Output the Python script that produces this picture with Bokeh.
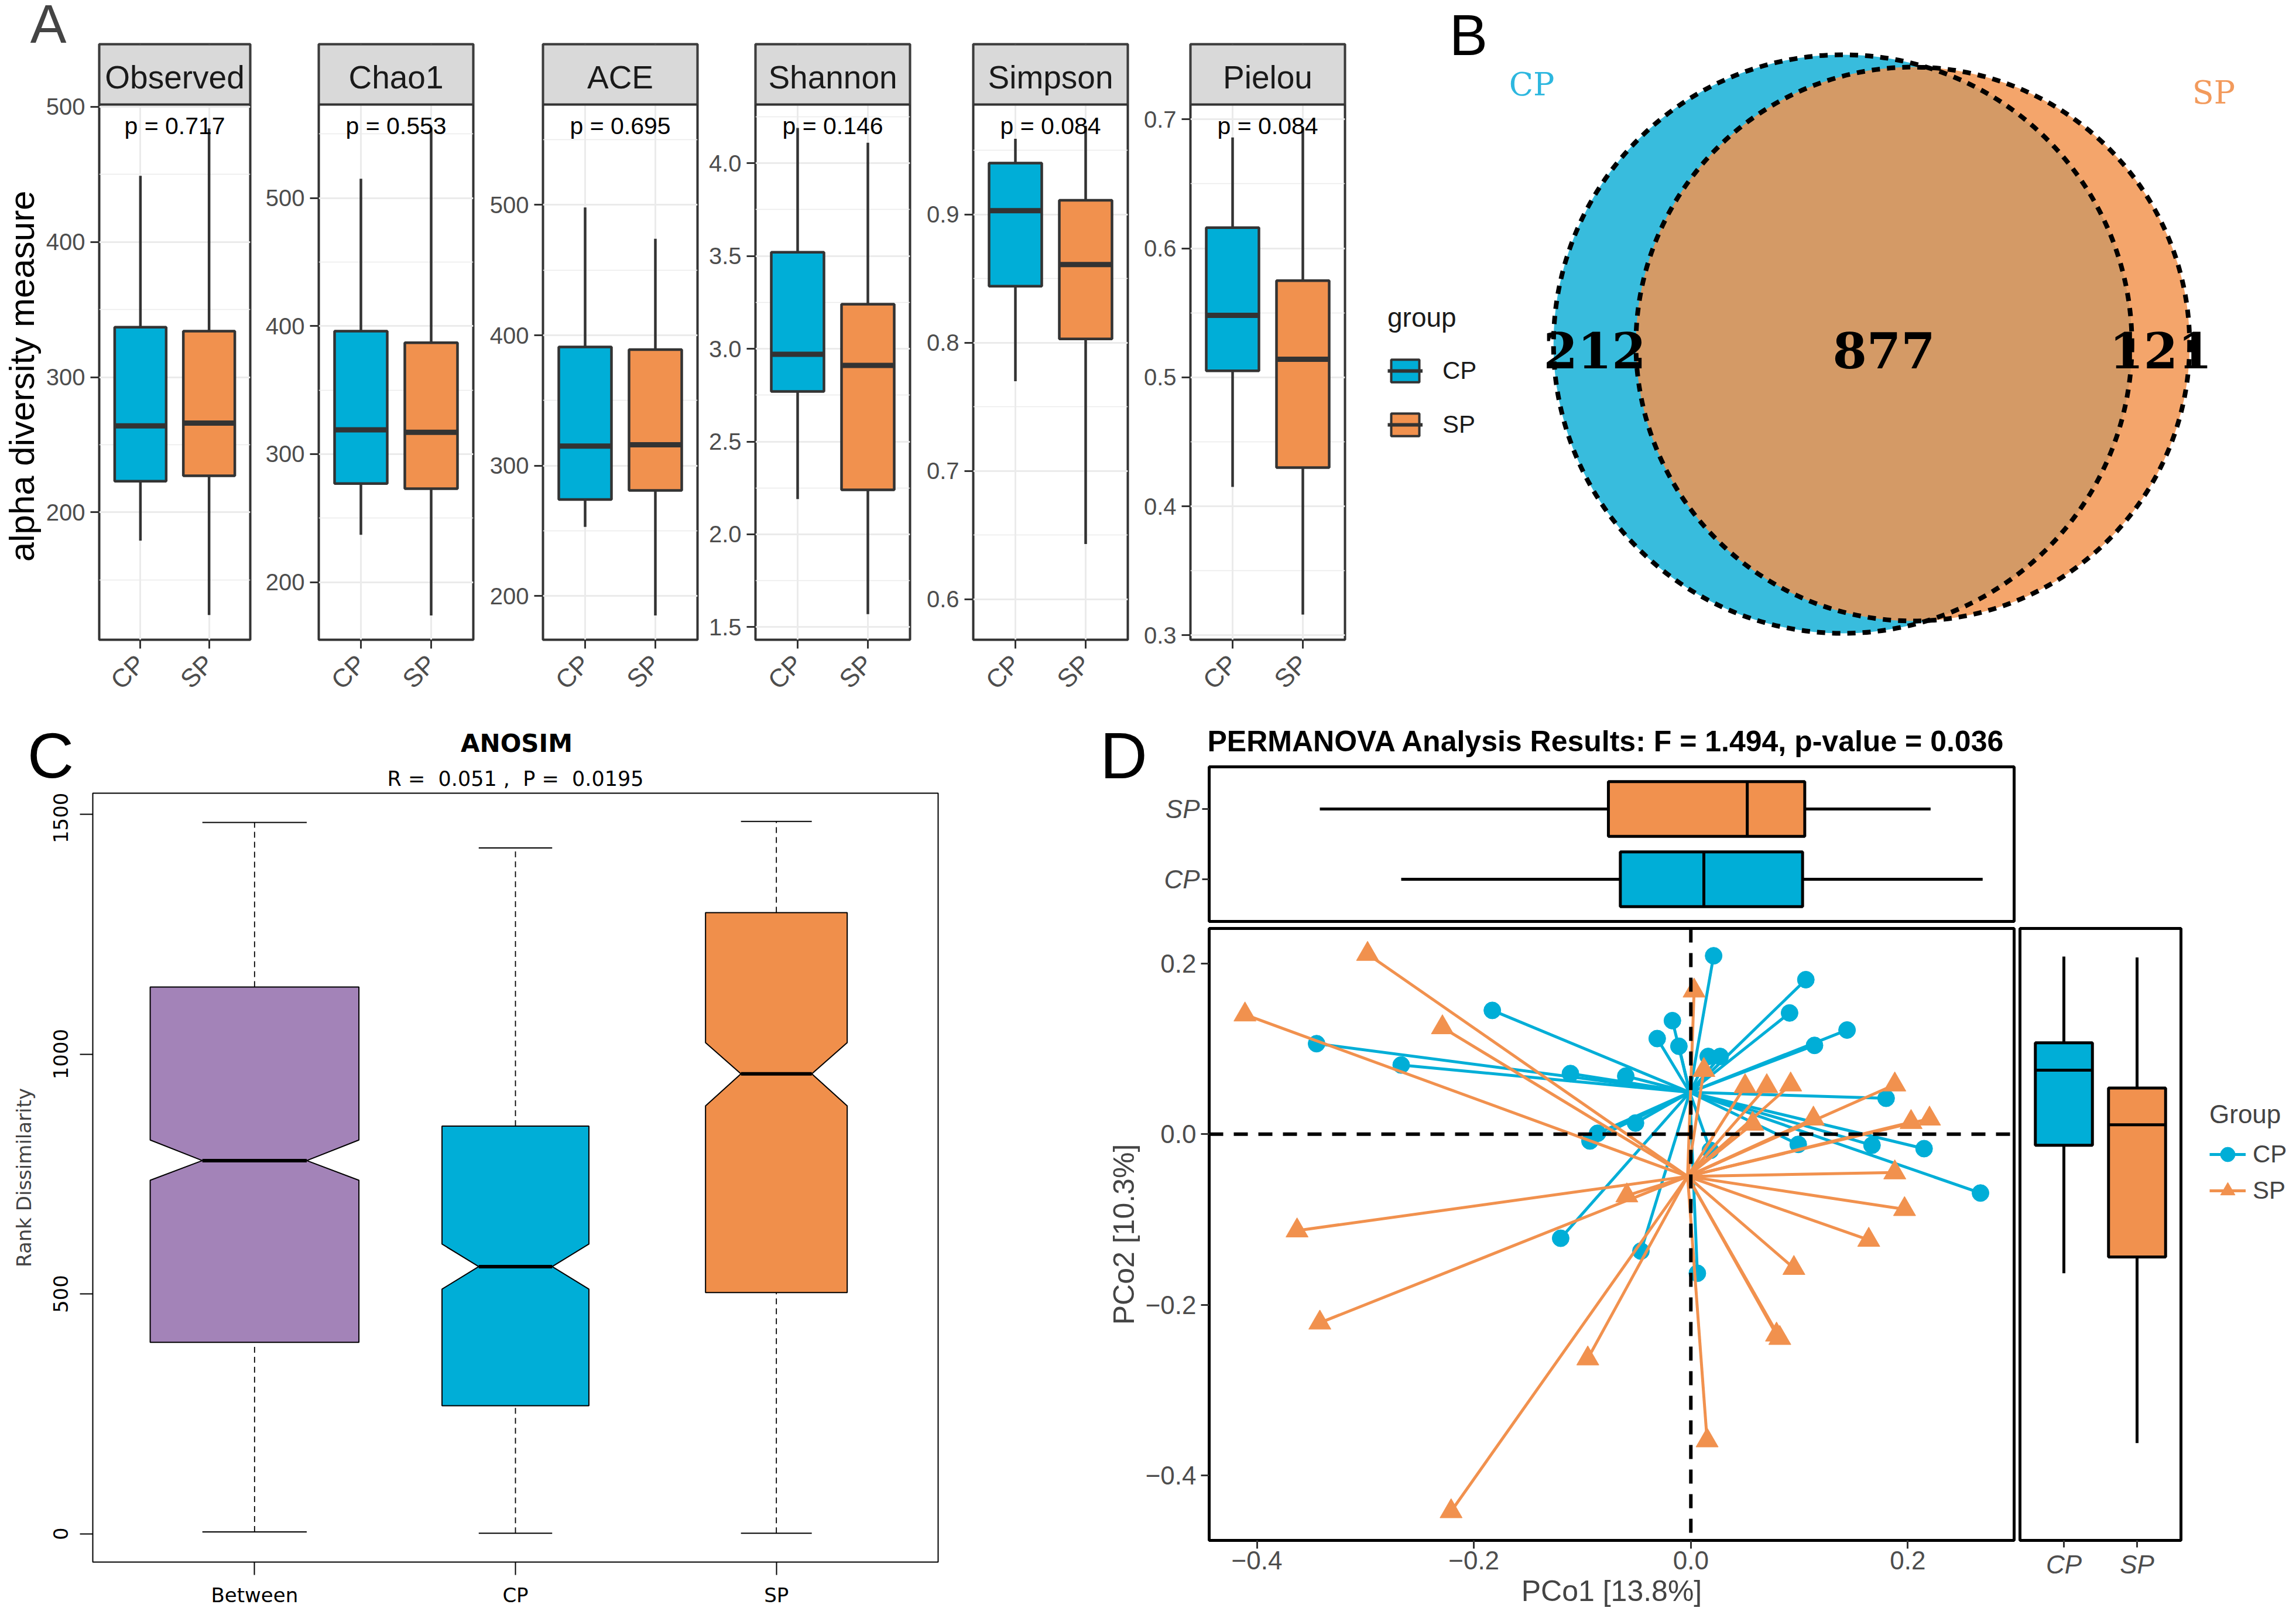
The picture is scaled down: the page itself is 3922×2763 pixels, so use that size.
import math
import numpy as np
from bokeh.plotting import figure
from bokeh.layouts import row, column
from bokeh.models import (Range1d, FixedTicker, Label, Legend, LegendItem, Span, BoxAnnotation,
                          PrintfTickFormatter, CustomJSTickFormatter, ColumnDataSource)
from bokeh.transform import dodge
from bokeh.embed import file_html
from bokeh.resources import INLINE

# ======================= DATA =======================
groups = ["CP", "SP"]
metrics = ["Observed", "Chao1", "ACE", "Shannon", "Simpson", "Pielou"]
p_values = ["0.717", "0.553", "0.695", "0.146", "0.084", "0.084"]

# five-number summaries: lower whisker, Q1, median, Q3, upper whisker
observed_cp = [179, 223, 264, 337, 449]
observed_sp = [124, 227, 266, 334, 484]
chao1_cp = [237, 277, 319, 396, 515]
chao1_sp = [174, 273, 317, 387, 555]
ace_cp = [253, 274, 315, 391, 498]
ace_sp = [185, 281, 316, 389, 474]
shannon_cp = [2.19, 2.77, 2.97, 3.52, 4.19]
shannon_sp = [1.57, 2.24, 2.91, 3.24, 4.11]
simpson_cp = [0.770, 0.844, 0.903, 0.940, 0.959]
simpson_sp = [0.643, 0.803, 0.861, 0.911, 0.969]
pielou_cp = [0.415, 0.505, 0.548, 0.616, 0.686]
pielou_sp = [0.316, 0.430, 0.514, 0.575, 0.694]

# axis limits and ticks of the facets
facet_ylims = [(105.7, 501.7), (155, 573), (166.4, 577), (1.432, 4.316), (0.5684, 0.9857), (0.2965, 0.7115)]
facet_ticks = [[200, 300, 400, 500], [200, 300, 400, 500], [200, 300, 400, 500],
               [1.5, 2.0, 2.5, 3.0, 3.5, 4.0], [0.6, 0.7, 0.8, 0.9], [0.3, 0.4, 0.5, 0.6, 0.7]]
facet_minor = [[150, 250, 350, 450], [250, 350, 450, 550], [250, 350, 450, 550],
               [1.75, 2.25, 2.75, 3.25, 3.75, 4.25], [0.65, 0.75, 0.85, 0.95], [0.35, 0.45, 0.55, 0.65]]
facet_fmt = ["%d", "%d", "%d", "%.1f", "%.1f", "%.1f"]

# Venn counts
venn_cp_only = 212
venn_shared = 877
venn_sp_only = 121

# ANOSIM
anosim_groups = ["Between", "CP", "SP"]
anosim_low = [4, 1, 1]
anosim_q1 = [399, 267, 503]
anosim_median = [778, 557, 959]
anosim_q3 = [1140, 850, 1295]
anosim_high = [1483, 1430, 1485]
anosim_notch_lo = [737, 510, 892]
anosim_notch_hi = [821, 604, 1024]
anosim_width = [0.80, 0.563, 0.543]
anosim_R = "0.051"
anosim_P = "0.0195"

# PCoA
cp_pc1 = [0.021, 0.106, -0.183, 0.091, -0.017, 0.144, -0.031, -0.011, -0.345, 0.114, 0.016, 0.027,
          -0.267, -0.111, -0.060, 0.180, -0.051, -0.086, -0.093, 0.099, 0.167, 0.215, 0.018,
          0.267, -0.120, -0.046, 0.006]
cp_pc2 = [0.209, 0.181, 0.145, 0.142, 0.133, 0.122, 0.112, 0.103, 0.106, 0.104, 0.091, 0.091,
          0.081, 0.071, 0.068, 0.042, 0.013, 0.001, -0.008, -0.012, -0.013, -0.017, -0.019,
          -0.069, -0.122, -0.137, -0.163]
sp_pc1 = [-0.298, -0.411, -0.229, 0.003, 0.050, 0.070, 0.092, 0.188, 0.113, 0.203, 0.220, 0.188,
          0.197, 0.164, 0.095, 0.079, 0.082, 0.015, -0.095, -0.221, -0.342, -0.363, -0.059,
          0.012, 0.057]
sp_pc2 = [0.211, 0.140, 0.125, 0.168, 0.056, 0.056, 0.058, 0.058, 0.018, 0.014, 0.018, -0.045,
          -0.088, -0.124, -0.157, -0.235, -0.239, -0.359, -0.263, -0.442, -0.221, -0.113, -0.072,
          0.075, 0.012]
cp_centroid = (-0.001, 0.049)
sp_centroid = (-0.003, -0.0495)
pc1_cp_box = [-0.267, -0.065, 0.012, 0.103, 0.269]
pc1_sp_box = [-0.342, -0.076, 0.052, 0.105, 0.221]
pc2_cp_box = [-0.163, -0.013, 0.075, 0.107, 0.208]
pc2_sp_box = [-0.362, -0.144, 0.011, 0.054, 0.207]
permanova_F = "1.494"
permanova_p = "0.036"
pc1_var = "13.8"
pc2_var = "10.3"

# ======================= STYLE =======================
CP_COL = "#00AED7"
SP_COL = "#F1914E"
group_colors = [CP_COL, SP_COL]
FONT_A = "Liberation Sans"
FONT_C = "DejaVu Sans"
FONT_V = "DejaVu Serif"
GREY30 = "#4D4D4D"
GREY20 = "#333333"
OFF = 8
NAN = np.array([np.nan])
NBSP = "\u00a0"


def mk(width, height, xr, yr, left, right, top, bottom, **kw):
    p = figure(width=width, height=height, x_range=xr, y_range=yr,
               min_border_left=left, min_border_right=right,
               min_border_top=top, min_border_bottom=bottom,
               toolbar_location=None, output_backend="svg", **kw)
    p.border_fill_color = "white"
    p.background_fill_color = "white"
    return p


def text_fig(x0, x1, y0, y1):
    """A canvas without axes whose data units are the page pixels."""
    p = mk(x1 - x0, y1 - y0, Range1d(x0, x1), Range1d(y1, y0), 0, 0, 0, 0,
           x_axis_location=None, y_axis_location=None)
    p.outline_line_color = None
    p.grid.grid_line_color = None
    return p


def px_label(p, X, Y, text, font, size, color="black", style="normal", align="center"):
    # Y is the wanted centre of the capitals; 'middle' sits a little above it
    p.add_layout(Label(x=X, y=Y + 0.1 * size, text=text, text_font=font, text_font_size=f"{size}px",
                       text_color=color, text_font_style=style, text_align=align,
                       text_baseline="middle"))


def style_axis(ax, font, size, color, tick_out, tick_w, tick_color, standoff, style="normal"):
    ax.major_label_text_font = font
    ax.major_label_text_font_size = f"{size}px"
    ax.major_label_text_color = color
    ax.major_label_text_font_style = style
    ax.major_tick_out = tick_out
    ax.major_tick_in = 0
    ax.major_tick_line_width = tick_w
    ax.major_tick_line_color = tick_color
    ax.minor_tick_line_color = None
    ax.axis_line_color = None
    ax.major_label_standoff = standoff


# ======================= PANEL A =======================
facet_stats = [(observed_cp, observed_sp), (chao1_cp, chao1_sp), (ace_cp, ace_sp),
               (shannon_cp, shannon_sp), (simpson_cp, simpson_sp), (pielou_cp, pielou_sp)]
frame_lefts = [171, 552, 935, 1298, 1670, 2041]
FW = 264
STRIP_TOP, STRIP_BOT, PANEL_BOT, ROW_BOT = 83, 186, 1100, 1225
A_HEAD_BOT = 81
PANEL_H = PANEL_BOT - STRIP_BOT
STRIP_H = STRIP_BOT - STRIP_TOP
xs = [k + 1 for k in range(len(groups))]

facet_cols = []
prev_right = OFF
for i, m in enumerate(metrics):
    L = frame_lefts[i]
    lb = L - prev_right
    W = lb + FW + 3
    x_start = prev_right
    prev_right += W
    y0, y1 = facet_ylims[i]
    span = y1 - y0
    y_top = y1 + STRIP_H / PANEL_H * span          # the strip sits above the panel
    parts = []
    if i == 0:
        head = text_fig(x_start, x_start + W, OFF, A_HEAD_BOT)
        head.add_layout(Label(x=90, y=49, text="A", text_font=FONT_A, text_font_size="94px",
                              text_align="center", text_baseline="middle"))
        parts.append(row(head))
        f = mk(W, ROW_BOT - A_HEAD_BOT, (0.4, 2.6), (y0, y_top), lb, 3, STRIP_TOP - A_HEAD_BOT,
               ROW_BOT - PANEL_BOT)
    else:
        f = mk(W, ROW_BOT - OFF, (0.4, 2.6), (y0, y_top), lb, 3, STRIP_TOP - OFF, ROW_BOT - PANEL_BOT)
    f.outline_line_color = GREY20
    f.outline_line_width = 4
    cp, sp = facet_stats[i]
    src = ColumnDataSource(dict(x=xs, low=[cp[0], sp[0]], q1=[cp[1], sp[1]], med=[cp[2], sp[2]],
                                q3=[cp[3], sp[3]], high=[cp[4], sp[4]], color=group_colors))
    f.segment(x0="x", y0="q3", x1="x", y1="high", source=src, line_color=GREY20, line_width=4.5)
    f.segment(x0="x", y0="low", x1="x", y1="q1", source=src, line_color=GREY20, line_width=4.5)
    f.vbar(x="x", bottom="q1", top="q3", width=0.75, source=src, fill_color="color",
           line_color=GREY20, line_width=4.5)
    f.segment(x0=dodge("x", -0.375), y0="med", x1=dodge("x", 0.375), y1="med", source=src,
              line_color=GREY20, line_width=9)
    # strip
    f.add_layout(BoxAnnotation(bottom=y1, top=y_top, fill_color="#D9D9D9", fill_alpha=1.0,
                               line_color=GREY20, line_width=4, line_alpha=1.0))
    f.add_layout(Label(x=1.5, y=(y1 + y_top) / 2 - 5 / PANEL_H * span, text=m, text_font=FONT_A,
                       text_font_size="55px", text_color="#1A1A1A", text_align="center",
                       text_baseline="middle"))
    f.add_layout(Label(x=1.5, y=y1 - 36 / PANEL_H * span, text=f"p = {p_values[i]}", text_font=FONT_A,
                       text_font_size="41px", text_color="black", text_align="center",
                       text_baseline="middle"))
    f.xaxis.ticker = FixedTicker(ticks=xs)
    f.xaxis.major_label_overrides = {k + 1: g for k, g in enumerate(groups)}
    f.xaxis.major_label_orientation = math.pi / 4
    f.yaxis.ticker = FixedTicker(ticks=facet_ticks[i], minor_ticks=facet_minor[i])
    f.yaxis.formatter = PrintfTickFormatter(format=facet_fmt[i])
    style_axis(f.xaxis[0], FONT_A, 44, GREY30, 15, 3, GREY20, 18)
    style_axis(f.yaxis[0], FONT_A, 40, GREY30, 15, 3, GREY20, 9)
    f.xgrid.grid_line_color = "#EBEBEB"
    f.xgrid.grid_line_width = 3
    f.ygrid.grid_line_color = "#EBEBEB"
    f.ygrid.grid_line_width = 3
    f.ygrid.minor_grid_line_color = "#EBEBEB"
    f.ygrid.minor_grid_line_width = 1.5
    if i == 0:
        # padded at its end so that it is centred on the panel rather than on panel + strip
        f.yaxis.axis_label = "alpha diversity measure" + NBSP * 7
        f.yaxis.axis_label_text_font = FONT_A
        f.yaxis.axis_label_text_font_size = "60px"
        f.yaxis.axis_label_text_font_style = "normal"
        f.yaxis.axis_label_text_color = "black"
        f.yaxis.axis_label_standoff = 5
    parts.append(f)
    facet_cols.append(column(*parts))

# ======================= PANEL B (Venn) =======================
VX0, VX1 = prev_right, 3914
venn = text_fig(VX0, VX1, OFF, ROW_BOT)

k_px = 14.97  # pixels per sqrt(count)
area_cp = venn_cp_only + venn_shared
area_sp = venn_sp_only + venn_shared
r1 = k_px * math.sqrt(area_cp)
r2 = k_px * math.sqrt(area_sp)
target = math.pi * k_px * k_px * venn_shared


def lens_area(d, a, b):
    if d >= a + b:
        return 0.0
    if d <= abs(a - b):
        return math.pi * min(a, b) ** 2
    t1 = a * a * math.acos((d * d + a * a - b * b) / (2 * d * a))
    t2 = b * b * math.acos((d * d + b * b - a * a) / (2 * d * b))
    t3 = 0.5 * math.sqrt((-d + a + b) * (d + a - b) * (d - a + b) * (d + a + b))
    return t1 + t2 - t3


lo, hi = abs(r1 - r2) + 1e-6, r1 + r2
for _ in range(80):
    mid = (lo + hi) / 2
    if lens_area(mid, r1, r2) > target:
        lo = mid
    else:
        hi = mid
dist = (lo + hi) / 2
union_cx, union_cy = 3204.5, 595
c1x = union_cx - (dist + r2 - r1) / 2
c2x = c1x + dist

venn.circle(x=[c1x], y=[union_cy], radius=r1, fill_color="#38BCDD", fill_alpha=1.0, line_color=None)
venn.circle(x=[c2x], y=[union_cy], radius=r2, fill_color="#F2944F", fill_alpha=0.84, line_color=None)
venn.circle(x=[c1x], y=[union_cy], radius=r1, fill_color=None, line_color="black",
            line_width=8, line_dash="14 12")
venn.circle(x=[c2x], y=[union_cy], radius=r2, fill_color=None, line_color="black",
            line_width=8, line_dash="14 12")

num_y = 597
for txt, xx in [(str(venn_cp_only), (c1x - r1 + c2x - r2) / 2),
                (str(venn_shared), (c2x - r2 + c1x + r1) / 2),
                (str(venn_sp_only), (c1x + r1 + c2x + r2) / 2)]:
    px_label(venn, xx, num_y, txt, FONT_V, 84, style="bold")
px_label(venn, 2624, 147, groups[0], FONT_V, 54, "#2DB7DF")
px_label(venn, 3789, 161, groups[1], FONT_V, 54, "#F29A5C")
px_label(venn, 2516, 58, "B", FONT_A, 98)

# legend of panel A (drawn on this canvas; its key renderers hold no visible mark)
leg_items = []
for g, col in zip(groups, group_colors):
    rb = venn.vbar(x=NAN, top=NAN, bottom=NAN, width=1, fill_color=col, line_color=GREY20, line_width=4)
    rm = venn.segment(x0=NAN, y0=NAN, x1=NAN, y1=NAN, line_color=GREY20, line_width=6)
    leg_items.append(LegendItem(label=g, renderers=[rb, rm]))
legA = Legend(items=leg_items, title="group", location=(2378 - VX0, ROW_BOT - 757),
              glyph_width=60, glyph_height=48, label_standoff=34, spacing=44,
              padding=0, margin=0, title_standoff=40,
              label_text_font=FONT_A, label_text_font_size="42px", label_text_color="#1A1A1A",
              title_text_font=FONT_A, title_text_font_size="46px", title_text_font_style="normal",
              title_text_color="#1A1A1A", background_fill_alpha=0, border_line_color=None)
venn.add_layout(legA)

top_row = row(*facet_cols, venn)

# ======================= PANEL C (ANOSIM) =======================
C_HEAD_BOT = 1361
c_head = text_fig(OFF, 1860, ROW_BOT, C_HEAD_BOT)
px_label(c_head, 94, 1286, "C", FONT_A, 110)
px_label(c_head, 890, 1273, "ANOSIM", FONT_C, 42, style="bold")
px_label(c_head, 888, 1334, f"R ={NBSP} {anosim_R} ,{NBSP} P ={NBSP} {anosim_P}", FONT_C, 35)

cxr = (0.38, 3.62)
cyr = (-59, 1544)
cfig = mk(1860 - OFF, 2755 - C_HEAD_BOT, cxr, cyr, 158, 250, 1, 80)
cfig.outline_line_color = "black"
cfig.outline_line_width = 2
cfig.grid.grid_line_color = None
anosim_colors = ["#A383B8", CP_COL, "#F08F4B"]
pxs, pys, cx, half = [], [], [], []
for i in range(len(anosim_groups)):
    x = i + 1
    hw = anosim_width[i] / 2
    cx.append(x)
    half.append(hw)
    pxs.append([x - hw, x - hw, x - hw / 2, x - hw, x - hw, x + hw, x + hw, x + hw / 2, x + hw, x + hw])
    pys.append([anosim_q1[i], anosim_notch_lo[i], anosim_median[i], anosim_notch_hi[i], anosim_q3[i],
                anosim_q3[i], anosim_notch_hi[i], anosim_median[i], anosim_notch_lo[i], anosim_q1[i]])
csrc = ColumnDataSource(dict(x=cx, x0=[a - h / 2 for a, h in zip(cx, half)],
                             x1=[a + h / 2 for a, h in zip(cx, half)],
                             low=anosim_low, q1=anosim_q1, med=anosim_median, q3=anosim_q3,
                             high=anosim_high))
cfig.segment(x0="x", y0="q3", x1="x", y1="high", source=csrc, line_color="black", line_width=1.8,
             line_dash="10 7")
cfig.segment(x0="x", y0="low", x1="x", y1="q1", source=csrc, line_color="black", line_width=1.8,
             line_dash="10 7")
cfig.segment(x0="x0", y0="high", x1="x1", y1="high", source=csrc, line_color="black", line_width=2)
cfig.segment(x0="x0", y0="low", x1="x1", y1="low", source=csrc, line_color="black", line_width=2)
cfig.patches(xs=pxs, ys=pys, fill_color=anosim_colors, line_color="black", line_width=2)
cfig.segment(x0="x0", y0="med", x1="x1", y1="med", source=csrc, line_color="black", line_width=6)
cfig.xaxis.ticker = FixedTicker(ticks=cx)
cfig.xaxis.major_label_overrides = {i + 1: g for i, g in enumerate(anosim_groups)}
cfig.yaxis.ticker = FixedTicker(ticks=[0, 500, 1000, 1500])
cfig.yaxis.major_label_orientation = "vertical"
style_axis(cfig.xaxis[0], FONT_C, 34, "black", 22, 2, "black", 14)
style_axis(cfig.yaxis[0], FONT_C, 34, "black", 22, 2, "black", 20)
cfig.yaxis.axis_label = "Rank Dissimilarity"
cfig.yaxis.axis_label_text_font = FONT_C
cfig.yaxis.axis_label_text_font_size = "34px"
cfig.yaxis.axis_label_text_font_style = "normal"
cfig.yaxis.axis_label_standoff = 28

panel_c = column(row(c_head), cfig)

# ======================= PANEL D (PCoA) =======================
D_HEAD_BOT = 1311
D_SPLIT = 1990
d_letter = text_fig(1860, D_SPLIT, ROW_BOT, 1587)
px_label(d_letter, 1927, 1287, "D", FONT_A, 112)
d_title = text_fig(D_SPLIT, 3914, ROW_BOT, D_HEAD_BOT)
px_label(d_title, 2070, 1268, f"PERMANOVA Analysis Results: F = {permanova_F}, p-value = {permanova_p}",
         FONT_A, 50, style="bold", align="left")

sxr = Range1d(-0.444, 0.298)
syr = Range1d(-0.476, 0.241)
# top marginal boxplot
topf = mk(3914 - D_SPLIT, 1587 - D_HEAD_BOT, sxr, (0.4, 2.6), 2073 - D_SPLIT, 466, 6, 6,
          x_axis_location=None)
topf.outline_line_color = "black"
topf.outline_line_width = 5
topf.grid.grid_line_color = None
tsrc = ColumnDataSource(dict(y=xs, low=[pc1_cp_box[0], pc1_sp_box[0]], q1=[pc1_cp_box[1], pc1_sp_box[1]],
                             med=[pc1_cp_box[2], pc1_sp_box[2]], q3=[pc1_cp_box[3], pc1_sp_box[3]],
                             high=[pc1_cp_box[4], pc1_sp_box[4]], color=group_colors))
topf.segment(x0="q3", y0="y", x1="high", y1="y", source=tsrc, line_color="black", line_width=5)
topf.segment(x0="low", y0="y", x1="q1", y1="y", source=tsrc, line_color="black", line_width=5)
topf.hbar(y="y", left="q1", right="q3", height=0.78, source=tsrc, fill_color="color",
          line_color="black", line_width=5)
topf.segment(x0="med", y0=dodge("y", -0.39), x1="med", y1=dodge("y", 0.39), source=tsrc,
             line_color="black", line_width=5)
topf.yaxis.ticker = FixedTicker(ticks=xs)
topf.yaxis.major_label_overrides = {k + 1: g for k, g in enumerate(groups)}
style_axis(topf.yaxis[0], FONT_A, 44, GREY30, 12, 3, GREY20, 4, style="italic")

# scatter
scat = mk(3453 - 1860, 2755 - 1587, sxr, syr, 213, 5, 6, 103)
scat.outline_line_color = "black"
scat.outline_line_width = 5
scat.grid.grid_line_color = None
scat.add_layout(Span(location=0, dimension="height", line_color="black", line_width=6, line_dash="24 18"))
scat.add_layout(Span(location=0, dimension="width", line_color="black", line_width=6, line_dash="24 18"))
cp_src = ColumnDataSource(dict(x=cp_pc1, y=cp_pc2, cx=[cp_centroid[0]] * len(cp_pc1),
                               cy=[cp_centroid[1]] * len(cp_pc1)))
sp_src = ColumnDataSource(dict(x=sp_pc1, y=sp_pc2, cx=[sp_centroid[0]] * len(sp_pc1),
                               cy=[sp_centroid[1]] * len(sp_pc1)))
scat.segment(x0="cx", y0="cy", x1="x", y1="y", source=cp_src, line_color=CP_COL, line_width=5)
scat.scatter(x="x", y="y", source=cp_src, marker="circle", size=29, fill_color=CP_COL, line_color=CP_COL)
scat.segment(x0="cx", y0="cy", x1="x", y1="y", source=sp_src, line_color=SP_COL, line_width=5)
scat.scatter(x="x", y="y", source=sp_src, marker="triangle", size=38, fill_color=SP_COL, line_color=SP_COL)
fmt = CustomJSTickFormatter(code="return (tick < -1e-9 ? '\u2212' : '') + Math.abs(tick).toFixed(1);")
scat.xaxis.ticker = FixedTicker(ticks=[-0.4, -0.2, 0.0, 0.2])
scat.yaxis.ticker = FixedTicker(ticks=[-0.4, -0.2, 0.0, 0.2])
scat.xaxis.formatter = fmt
scat.yaxis.formatter = fmt
style_axis(scat.xaxis[0], FONT_A, 44, GREY30, 14, 3, GREY20, 4)
style_axis(scat.yaxis[0], FONT_A, 44, GREY30, 14, 3, GREY20, 8)
scat.xaxis.axis_label = f"PCo1 [{pc1_var}%]"
scat.yaxis.axis_label = f"PCo2 [{pc2_var}%]"
for ax in (scat.xaxis[0], scat.yaxis[0]):
    ax.axis_label_text_font = FONT_A
    ax.axis_label_text_font_size = "50px"
    ax.axis_label_text_font_style = "normal"
    ax.axis_label_standoff = 6

# right marginal boxplot
rf = mk(3736 - 3453, 2755 - 1587, (0.4, 2.6), syr, 5, 3, 6, 103, y_axis_location=None)
rf.outline_line_color = "black"
rf.outline_line_width = 5
rf.grid.grid_line_color = None
rsrc = ColumnDataSource(dict(x=xs, low=[pc2_cp_box[0], pc2_sp_box[0]], q1=[pc2_cp_box[1], pc2_sp_box[1]],
                             med=[pc2_cp_box[2], pc2_sp_box[2]], q3=[pc2_cp_box[3], pc2_sp_box[3]],
                             high=[pc2_cp_box[4], pc2_sp_box[4]], color=group_colors))
rf.segment(x0="x", y0="q3", x1="x", y1="high", source=rsrc, line_color="black", line_width=5)
rf.segment(x0="x", y0="low", x1="x", y1="q1", source=rsrc, line_color="black", line_width=5)
rf.vbar(x="x", bottom="q1", top="q3", width=0.78, source=rsrc, fill_color="color",
        line_color="black", line_width=5)
rf.segment(x0=dodge("x", -0.39), y0="med", x1=dodge("x", 0.39), y1="med", source=rsrc,
           line_color="black", line_width=5)
rf.xaxis.ticker = FixedTicker(ticks=xs)
rf.xaxis.major_label_overrides = {k + 1: g for k, g in enumerate(groups)}
style_axis(rf.xaxis[0], FONT_A, 44, GREY30, 12, 3, GREY20, 4, style="italic")

# legend of panel D
d_leg = text_fig(3736, 3914, 1587, 2755)
items_d = []
for g, col, mk_ in zip(groups, group_colors, ["circle", "triangle"]):
    rl = d_leg.line(x=NAN, y=NAN, line_color=col, line_width=5)
    rp = d_leg.scatter(x=NAN, y=NAN, marker=mk_, size=25, fill_color=col, line_color=col)
    items_d.append(LegendItem(label=g, renderers=[rl, rp]))
legD = Legend(items=items_d, title="Group", location=(3782 - 3736, 2755 - 2072),
              glyph_width=62, glyph_height=62, label_standoff=12, spacing=-4,
              padding=0, margin=0, title_standoff=12,
              label_text_font=FONT_A, label_text_font_size="42px",
              title_text_font=FONT_A, title_text_font_size="44px", title_text_font_style="normal",
              background_fill_alpha=0, border_line_color=None)
d_leg.add_layout(legD)

panel_d = column(row(column(d_letter), column(row(d_title), topf)), row(scat, rf, column(d_leg)))
bottom_row = row(panel_c, panel_d)

layout = column(top_row, bottom_row)
with open("out.html", "w", encoding="utf-8") as fh:
    fh.write(file_html(layout, INLINE))
